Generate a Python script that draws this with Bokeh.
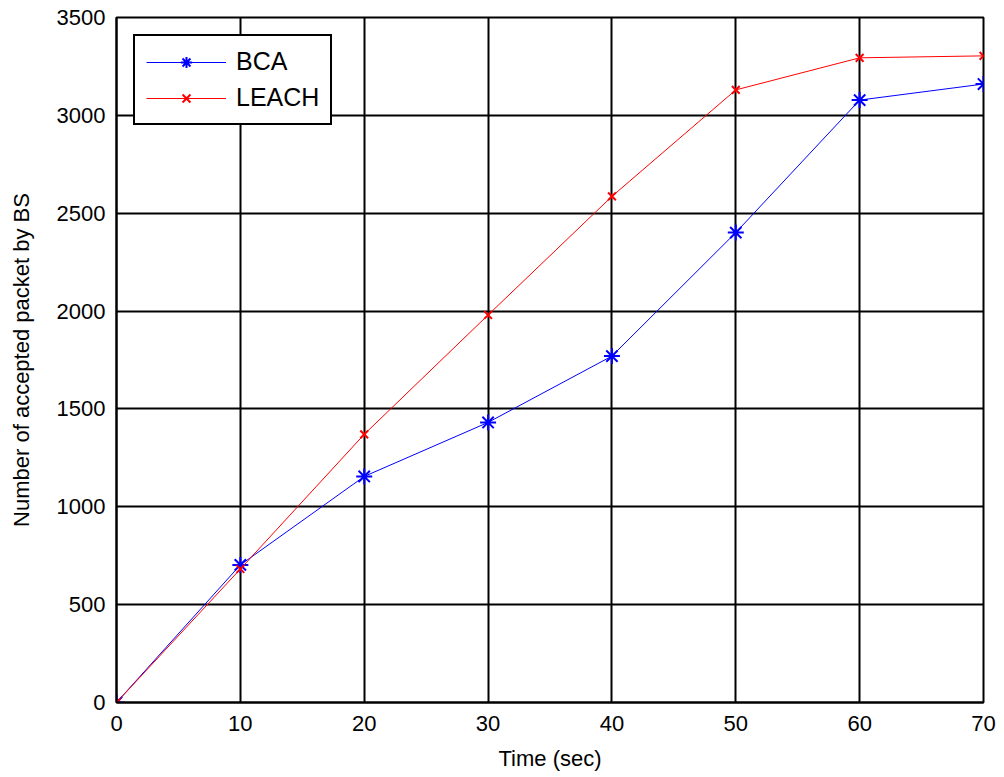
from bokeh.plotting import figure
from bokeh.embed import file_html
from bokeh.resources import INLINE
from bokeh.models import Range1d, FixedTicker, Legend, LegendItem

time = [0, 10, 20, 30, 40, 50, 60, 70]
bca = [0, 703, 1155, 1431, 1770, 2401, 3078, 3160]
leach = [0, 682, 1370, 1980, 2586, 3130, 3294, 3304]
x_ticks = [0, 10, 20, 30, 40, 50, 60, 70]
y_ticks = [0, 500, 1000, 1500, 2000, 2500, 3000, 3500]

p = figure(width=1004, height=777, output_backend="svg", toolbar_location=None,
           x_range=Range1d(0, 70), y_range=Range1d(0, 3500),
           min_border_left=116, min_border_right=21, min_border_top=17, min_border_bottom=75)
p.background_fill_color = "white"
p.border_fill_color = "white"
p.outline_line_color = "black"
p.outline_line_width = 2

for ax in (p.xaxis, p.yaxis):
    ax.axis_line_width = 2
    ax.major_tick_line_color = None
    ax.minor_tick_line_color = None
    ax.major_label_text_font = "Liberation Sans"
    ax.major_label_text_font_size = "22px"
    ax.major_label_text_color = "black"
    ax.axis_label_text_font = "Liberation Sans"
    ax.axis_label_text_font_size = "22px"
    ax.axis_label_text_font_style = "normal"
    ax.axis_label_text_color = "black"
p.xaxis.ticker = FixedTicker(ticks=x_ticks)
p.yaxis.ticker = FixedTicker(ticks=y_ticks)
p.xaxis.axis_label = "Time (sec)"
p.yaxis.axis_label = "Number of accepted packet by BS"
p.xaxis.major_label_standoff = 7
p.yaxis.major_label_standoff = 5
p.xaxis.axis_label_standoff = 12
p.yaxis.axis_label_standoff = 20

p.xgrid.ticker = FixedTicker(ticks=x_ticks)
p.ygrid.ticker = FixedTicker(ticks=y_ticks)
for g in (p.xgrid, p.ygrid):
    g.grid_line_color = "black"
    g.grid_line_width = 2

l1 = p.line(time, bca, line_color="blue", line_width=1)
m1 = p.scatter(time, bca, marker="asterisk", size=16, line_color="blue", line_width=2)
l2 = p.line(time, leach, line_color="red", line_width=1)
m2 = p.scatter(time, leach, marker="x", size=11, line_color="red", line_width=2)

legend = Legend(items=[LegendItem(label="BCA", renderers=[l1, m1]),
                       LegendItem(label="LEACH", renderers=[l2, m2])],
                location="top_left")
legend.border_line_color = "black"
legend.border_line_alpha = 1
legend.border_line_width = 2
legend.label_text_font = "Liberation Sans"
legend.label_text_font_size = "25px"
legend.label_text_color = "black"
legend.label_height = 28
legend.glyph_height = 28
legend.glyph_width = 80
legend.label_standoff = 10
legend.margin = 17
legend.padding = 11
legend.spacing = 7
legend.background_fill_alpha = 1
p.add_layout(legend)

open("out.html", "w").write(file_html(p, INLINE))
